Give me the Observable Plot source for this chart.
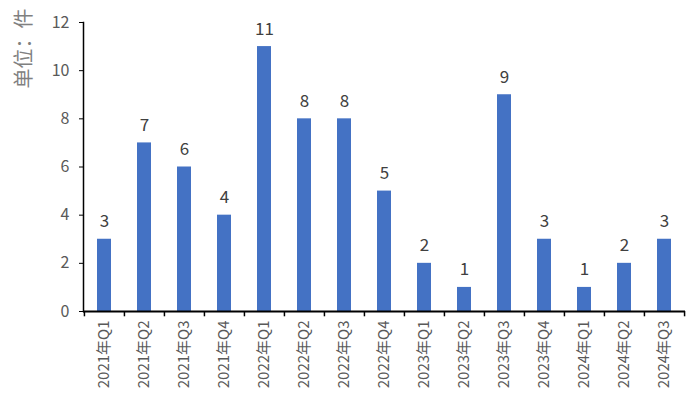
<!DOCTYPE html>
<html><head><meta charset="utf-8">
<script src="https://cdn.jsdelivr.net/npm/d3@7"></script>
<script src="https://cdn.jsdelivr.net/npm/@observablehq/plot@0.6"></script>
<style>
html,body{margin:0;padding:0;background:#fff;}
svg{font-family:"Noto Sans CJK SC","Noto Sans",sans-serif;}
</style></head>
<body><div id="chart"></div>
<script>
const quarters = ["2021年Q1","2021年Q2","2021年Q3","2021年Q4","2022年Q1","2022年Q2","2022年Q3","2022年Q4","2023年Q1","2023年Q2","2023年Q3","2023年Q4","2024年Q1","2024年Q2","2024年Q3"];
const counts = [3,7,6,4,11,8,8,5,2,1,9,3,1,2,3];
const yTicks = [0,2,4,6,8,10,12];
const yLabel = "单位：件";

const data = quarters.map((q,i)=>({q, v: counts[i]}));
const W = 700, H = 409, ml = 83, mr = 15, mt = 22, mb = 98;
const step = (W - ml - mr) / quarters.length;

const chart = Plot.plot({
  width: W, height: H,
  marginLeft: ml, marginRight: mr, marginTop: mt, marginBottom: mb,
  style: {fontSize: "14px", color: "#595959", background: "#fff"},
  x: {domain: quarters, paddingInner: 0.65, paddingOuter: 0.325, label: null},
  y: {domain: [0,12], label: null},
  marks: [
    Plot.barY(data, {x: "q", y: "v", fill: "#4472C4"}),
    Plot.text(data, {x: "q", y: "v", text: d => String(d.v), lineAnchor: "bottom", dy: -12, fontSize: 17, fill: "#404040"}),
    Plot.axisY({ticks: yTicks, tickSize: 4, tickPadding: 10, fontSize: 16, tickFormat: d => d, stroke: "#000", fill: "#595959", label: null}),
    Plot.axisX({tickSize: 0, tickRotate: -90, tickPadding: 9, fontSize: 15, fill: "#595959", label: null}),
    Plot.ruleX(quarters, {x: d => d, y1: 0, y2: -0.22, dx: -step/2, stroke: "#000", strokeWidth: 1.5}),
    Plot.ruleX([quarters[quarters.length-1]], {x: d => d, y1: 0, y2: -0.22, dx: step/2, stroke: "#000", strokeWidth: 1.5}),
    Plot.frame({anchor: "left", stroke: "#000", strokeWidth: 1.5}),
    Plot.ruleY([0], {stroke: "#000", strokeWidth: 2}),
    Plot.text([yLabel], {frameAnchor: "top-left", text: d => d, rotate: -90, textAnchor: "end", dx: -67, dy: -14, fontSize: 20, fill: "#808080"})
  ]
});
document.getElementById("chart").appendChild(chart);
</script></body></html>
